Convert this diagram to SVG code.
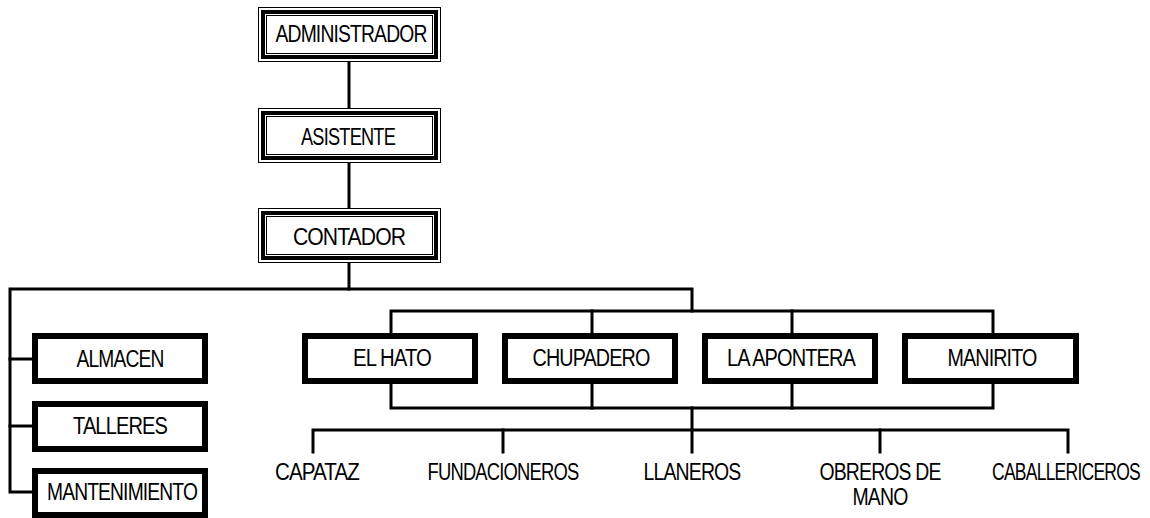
<svg xmlns="http://www.w3.org/2000/svg" width="1150" height="518" viewBox="0 0 1150 518">
<style>
.t1{fill:none;stroke:#000;stroke-width:1}
.t4{fill:none;stroke:#000;stroke-width:4}
.bx{fill:#fff;stroke:#000;stroke-width:6}
.bg{fill:#fff;stroke:none}
.c{fill:none;stroke:#000;stroke-width:3;stroke-linejoin:miter;stroke-linecap:square}
text{font-family:"Liberation Sans",Arial,sans-serif;font-size:23px;fill:#000;text-anchor:middle;letter-spacing:-1px}
</style>
<rect width="1150" height="518" fill="#fff"/>
<g id="connectors">
<path class="c" d="M349,62 V108"/>
<path class="c" d="M349,163 V208"/>
<path class="c" d="M349,263 V289"/>
<path class="c" d="M692,311 V289 H10 V492 H32"/>
<path class="c" d="M10,359 H32"/>
<path class="c" d="M10,426 H32"/>
<path class="c" d="M391,333 V311 H993 V333"/>
<path class="c" d="M592,311 V333"/>
<path class="c" d="M792,311 V333"/>
<path class="c" d="M391,384 V408 H993 V384"/>
<path class="c" d="M592,384 V408"/>
<path class="c" d="M792,384 V408"/>
<path class="c" d="M692,408 V430"/>
<path class="c" d="M313,452 V430 H1068 V452"/>
<path class="c" d="M503,430 V452"/>
<path class="c" d="M692,430 V452"/>
<path class="c" d="M880,430 V452"/>
</g>
<g id="administrador">
<rect class="bg" x="258" y="7" width="183" height="55"/>
<rect class="t1" x="258.5" y="7.5" width="182" height="54"/>
<rect class="t4" x="263" y="12" width="173" height="45"/>
<rect class="t1" x="266.5" y="15.5" width="166" height="38"/>
<text x="351" y="42" textLength="151" lengthAdjust="spacingAndGlyphs">ADMINISTRADOR</text>
</g>
<g id="asistente">
<rect class="bg" x="258" y="108" width="183" height="55"/>
<rect class="t1" x="258.5" y="108.5" width="182" height="54"/>
<rect class="t4" x="263" y="113" width="173" height="45"/>
<rect class="t1" x="266.5" y="116.5" width="166" height="38"/>
<text x="348" y="145" textLength="94" lengthAdjust="spacingAndGlyphs">ASISTENTE</text>
</g>
<g id="contador">
<rect class="bg" x="258" y="208" width="183" height="55"/>
<rect class="t1" x="258.5" y="208.5" width="182" height="54"/>
<rect class="t4" x="263" y="213" width="173" height="45"/>
<rect class="t1" x="266.5" y="216.5" width="166" height="38"/>
<text x="349" y="245" textLength="112" lengthAdjust="spacingAndGlyphs">CONTADOR</text>
</g>
<g id="almacen">
<rect class="bx" x="35" y="336" width="170" height="45"/>
<text x="120" y="367" textLength="87" lengthAdjust="spacingAndGlyphs">ALMACEN</text>
</g>
<g id="talleres">
<rect class="bx" x="35" y="404" width="170" height="45"/>
<text x="120" y="434" textLength="94" lengthAdjust="spacingAndGlyphs">TALLERES</text>
</g>
<g id="mantenimiento">
<rect class="bx" x="35" y="471" width="170" height="44"/>
<text x="122" y="500" textLength="150" lengthAdjust="spacingAndGlyphs">MANTENIMIENTO</text>
</g>
<g id="el-hato">
<rect class="bx" x="305" y="336" width="170" height="45"/>
<text x="392" y="366" textLength="78" lengthAdjust="spacingAndGlyphs">EL HATO</text>
</g>
<g id="chupadero">
<rect class="bx" x="505" y="336" width="170" height="45"/>
<text x="591" y="366" textLength="117" lengthAdjust="spacingAndGlyphs">CHUPADERO</text>
</g>
<g id="la-apontera">
<rect class="bx" x="705" y="336" width="170" height="45"/>
<text x="791" y="366" textLength="128" lengthAdjust="spacingAndGlyphs">LA APONTERA</text>
</g>
<g id="manirito">
<rect class="bx" x="905" y="336" width="171" height="45"/>
<text x="992" y="366" textLength="89" lengthAdjust="spacingAndGlyphs">MANIRITO</text>
</g>
<g id="capataz"><text x="317" y="480" textLength="84" lengthAdjust="spacingAndGlyphs">CAPATAZ</text></g>
<g id="fundacioneros"><text x="503" y="480" textLength="151" lengthAdjust="spacingAndGlyphs">FUNDACIONEROS</text></g>
<g id="llaneros"><text x="692" y="480" textLength="97" lengthAdjust="spacingAndGlyphs">LLANEROS</text></g>
<g id="obreros-de-mano">
<text x="880" y="480" textLength="121" lengthAdjust="spacingAndGlyphs">OBREROS DE</text>
<text x="880" y="505" textLength="55" lengthAdjust="spacingAndGlyphs">MANO</text>
</g>
<g id="caballericeros"><text x="1066" y="480" textLength="148" lengthAdjust="spacingAndGlyphs">CABALLERICEROS</text></g>
</svg>
